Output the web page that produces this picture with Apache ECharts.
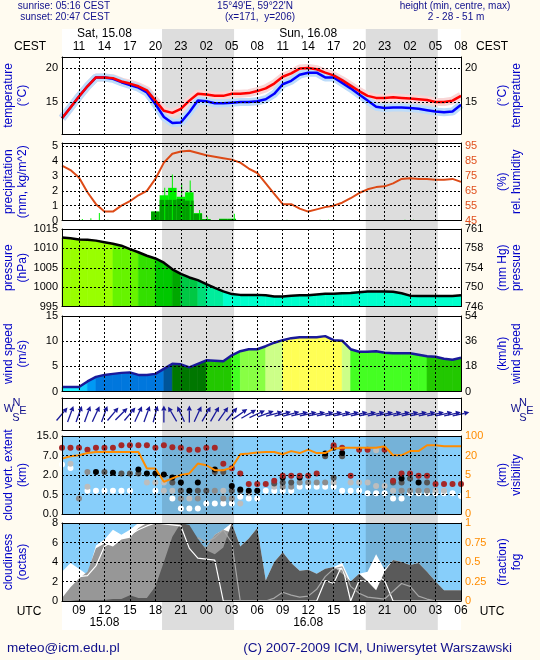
<!DOCTYPE html>
<html>
<head>
<meta charset="utf-8">
<title>meteogram</title>
<script src="https://cdn.jsdelivr.net/npm/echarts@6/dist/echarts.min.js"></script>
<style>
  html, body { margin: 0; padding: 0; background: #fffbf0; }
  #chart { width: 540px; height: 660px; }
</style>
</head>
<body>
<div id="chart"></div>
<script>
// forecast hours, UTC, counted from 15.08 00:00 UTC
var hours = [7,8,9,10,11,12,13,14,15,16,17,18,19,20,21,22,23,24,25,26,27,28,29,30,
             31,32,33,34,35,36,37,38,39,40,41,42,43,44,45,46,47,48,49,50,51,52,53,54];
var utcTicks = [9,12,15,18,21,24,27,30,33,36,39,42,45,48,51,54];
var dateTicks = [12, 36];
var dateTop = ['Sat, 15.08', 'Sun, 16.08'];
var dateBottom = ['15.08', '16.08'];
var nightStart = [18.78, 42.78];   // sunset 20:47 CEST
var nightEnd = [27.27, 51.27];     // sunrise 05:16 CEST

var temp = [12.6,14.2,15.8,17.3,18.6,18.6,18.5,18.0,17.7,17.3,16.7,15.2,13.7,13.4,14.0,15.2,
            16.2,16.1,15.9,15.9,16.2,16.2,16.3,16.6,17.0,17.7,18.7,19.2,19.9,20.0,19.8,19.3,
            18.9,18.2,17.4,16.6,15.9,15.6,15.6,15.7,15.6,15.5,15.4,15.3,15.0,15.0,15.2,15.9];
var tempLow = [12.6,14.2,15.8,17.3,18.6,18.6,18.4,17.9,17.5,17.1,16.4,14.7,12.8,11.9,12.0,13.5,
               15.2,15.1,14.8,14.8,14.9,15.0,15.0,15.1,15.4,16.2,17.6,18.1,19.0,19.3,19.3,18.6,
               18.6,17.8,17.0,16.1,15.2,14.3,14.1,14.2,14.2,14.1,14.0,13.8,13.6,13.5,13.6,14.6];
var humidity = [82,79,74,64,56,51,51,55,58,62,65,73,84,90,91.5,92,90.5,89,88,87,86,84,80,77,
                70,63,56,56,53,51,52.5,54,55,57,60,63.5,66,67.5,68,70,73,73.5,73,73,72.5,72.5,73,71];

var precipHours = [18,19,20,21,22,23,24,25,26,27];
var precipTotal = [0.6,1.7,2.2,1.6,1.9,0.5,0.1,0.03,0.12,0.12];
var precipConv = [0.6,1.39,1.39,1.45,1.34,0.45,0.09,0.02,0.1,0.1];
var precipMaxHours = [9.4,10.4,11.4,12.4,19.1,20.0,21.1,22.1,23.2,24.1,27.3,33.5,36.4,37.4,38.4,47.4,48.4,49.4];
var precipMax = [0.1,0.15,0.5,0.05,2.2,3.1,2.5,2.7,0.7,0.27,0.45,0.05,0.04,0.05,0.05,0.05,0.05,0.04];

var pressure = [1012.8,1012.6,1012.3,1012.2,1012.0,1011.6,1011.2,1010.7,1009.8,1009.0,1008.1,1007.4,
                1006.3,1004.6,1003.4,1002.5,1001.8,1000.8,999.8,998.9,998.2,998.0,998.0,998.0,
                997.9,997.6,997.6,997.8,997.9,997.9,998.1,998.3,998.3,998.4,998.5,998.7,
                998.9,998.9,998.9,998.8,998.4,997.8,997.7,997.7,997.7,997.7,997.7,997.9];
var windSpeed = [0.9,0.9,0.9,2.0,2.9,3.3,3.5,3.7,3.8,3.3,3.3,3.5,4.5,5.5,5.4,4.8,5.5,6.2,6.1,6.0,
                 7.2,8.0,8.4,8.4,9.0,9.7,10.2,10.6,10.8,10.8,10.8,11.0,10.2,10.1,8.4,7.9,7.9,8.0,
                 7.7,7.6,7.6,7.6,7.3,7.0,6.9,6.5,6.3,6.7];
var windFrom = [220,200,200,200,205,200,220,225,220,205,200,195,180,150,155,180,205,210,210,215,
                220,235,240,245,250,255,255,255,258,258,258,258,258,258,258,258,258,258,258,258,
                258,258,258,258,258,258,258,258];

// cloud layers [hour, km], by dot colour
var cloudRed = [[7,10.2],[8,10.2],[9,10.2],[10,9.4],[11,10.2],[12,10.2],[13,10.2],[14,11.2],[15,11.2],
  [16,11.2],[17,11.2],[18,10.2],[19,11.2],[20,10.4],[21,10.2],[22,9.4],[23,9.4],[24,10.2],[25,10.2],
  [26,4.9],[27,3.7],[28,2.4],[29,1.3],[30,1.3],[31,1.3],[32,1.55],[33,1.94],[34,1.94],[35,1.94],
  [36,1.94],[37,2.4],[39,11.2],[40,10.2],[41,1.94],[42,9.4],[43,9.4],[45,9.4],[46,1.55],[47,2.4],
  [48,2.4],[49,1.94],[50,1.94],[51,1.3],[52,1.3],[53,1.3],[54,1.3]];
var cloudBlack = [[11,2.8],[13,2.6],[16,3.4],[17,2.4],[18,2.4],[19,2.1],[20,1.81],[21,1.43],[22,0.79],
  [23,1.43],[25,3.4],[27,1.15],[28,0.89],[29,0.79],[30,0.79],[33,1.81],[35,1.81],[38,7.8],[39,10.2],
  [40,8.0],[47,1.73],[49,1.43]];
var cloudDark = [[12,2.8],[14,2.4],[15,2.4],[16,2.4],[20,1.43],[21,0.79],[23,0.79],[24,0.79],[25,2.8],
  [26,2.8],[27,0.79],[28,0.79],[32,1.35],[33,1.43],[34,1.43],[38,6.8],[39,1.79],[40,6.8],[46,1.43],
  [47,1.43],[48,1.73],[50,1.43]];
var cloudGray = [[9,0.4],[10,2.8],[21,0.4],[23,0.4],[25,0.79],[26,0.4],[27,0.4],[33,1.1],[34,1.1],
  [35,1.43],[36,1.43],[37,1.43],[38,1.43],[47,0.79],[48,0.79],[49,0.79],[50,0.79]];
var cloudLight = [[8,4.9],[10,1.1],[17,1.43],[18,1.43],[19,1.43],[19,0.79],[20,0.79],[22,0.4],[26,0.79],
  [28,0.27],[29,0.59],[32,1.1],[39,1.43],[41,1.43],[42,1.43],[43,1.43],[44,9.2],[44,1.15],[45,1.15],
  [46,0.79],[51,0.79],[52,0.79]];
var cloudWhite = [[7,4.7],[8,3.8],[10,0.79],[11,0.79],[12,0.79],[13,0.79],[14,0.79],[15,0.79],[18,0.79],
  [20,0.4],[21,0.14],[22,0.14],[23,0.14],[24,0.27],[25,0.27],[26,0.27],[27,0.27],[28,0.44],[29,0.4],
  [30,0.4],[31,0.79],[32,0.79],[33,0.79],[34,0.79],[35,1.1],[36,1.1],[37,1.1],[38,1.1],[39,1.1],
  [40,0.79],[41,0.79],[42,0.79],[43,0.59],[44,0.59],[45,0.59],[46,0.4],[47,0.4],[48,0.59],[49,0.59],
  [50,0.59],[51,0.59],[52,0.59],[53,0.59],[54,0.46]];
var visibility = [17.6,19.4,20.8,30,34.6,34.6,34.6,34.6,34.6,34.6,10,10,3.6,4.3,5.0,6.2,13.8,12.5,
                  8.7,8.7,10.7,25,28,32,34.6,34.6,25,38,30,44,30,30,48,52,52,52,52,52,58,20.8,20.8,
                  38,38,62,62,58,58,58];
var extBreaks = [0, 0.5, 2, 7, 15];
var visBreaks = [0, 1, 5, 20, 100];

// cloudiness, octas
var cloudTotal = [3.0,3.9,3.3,2.7,5.7,6.3,7.3,6.8,7.3,8,8,8,8,8,8,7.5,6.3,5.2,6.8,7.3,8.0,5.6,6.4,7.5,
                  2.1,4.0,5.0,3.9,3.1,3.2,2.8,3.3,3.5,3.9,2.0,2.8,3.0,4.8,3.2,4.2,4.0,3.7,3.9,3.0,
                  2.0,1.1,1.1,1.1];
var cloudMid = [0.3,1.4,2.3,3.0,5.4,5.9,5.6,6.3,6.5,7.5,8,8,8,8,8,7.5,6.0,5.5,6.8,7.3,7.0,4.0,2.0,0.5,
                0,0,0,0,0,0,1.5,2.6,3.3,3.2,1.0,0,0,0,0,0,0,0,0,0,0,0,0,0];
var cloudLow = [0,0,0.1,0.1,0.1,0.1,0.2,0.2,0.6,0.3,0.3,1.5,4.0,6.6,8.0,7.8,6.4,5.2,4.8,5.5,8.0,5.6,
                6.4,7.5,2.1,4.0,5.0,3.9,3.1,3.2,2.8,3.3,3.5,2.8,2.0,2.8,2.0,1.1,3.0,4.2,4.0,3.7,
                3.9,3.0,2.0,1.1,1.1,1.1];
var cloudLineA = [0.9,2.0,2.5,2.6,3.6,5.6,6.2,6.6,6.8,7.3,7.7,8.0,7.9,7.8,7.7,5.4,4.4,4.3,4.2,0,
                  0,0,0,0,0,0,0,0,0,0,0,2.1,1.8,3.7,0,2.1,2.0,2.6,2.1,0,0,0,0,0,0,0,0,0];
var cloudLineB = [null,null,null,null,null,null,null,null,null,null,null,null,null,null,null,null,
                  6.5,6.0,6.5,7.3,6.0,0,0,0,0,0.3,0.9,0.6,0.4,0.5,1.2,2.5,3.3,3.5,1.5,0.8,0.4,0.3,
                  0.2,1.0,1.8,1.5,0.5,0.2,0,0,0,0];
var fogHours = [22];
var fog = [0.14];

var chart = echarts.init(document.getElementById('chart'));

var FONT = '"Liberation Sans", Arial, sans-serif';
var NAVY = '#10108c';
var TITLE = '#0000c8';
var DASH = { type: [2, 2], color: '#000', width: 1 };
var L = 62, R = 79;
var panels = [
  { top: 57, height: 77 },     // temperature
  { top: 143, height: 77.5 },  // precipitation, humidity
  { top: 229, height: 77.5 },  // pressure
  { top: 316, height: 75.5 },  // wind speed
  { top: 398, height: 32 },    // wind direction
  { top: 436, height: 78 },    // cloud vertical extent, visibility
  { top: 523, height: 78 }     // cloudiness, fog
];

function pad(n) { return (n < 10 ? '0' : '') + n; }
function zip(xs, ys) { return xs.map(function (x, i) { return [x, ys[i]]; }); }
function segments(xs, ys) {
  var out = [];
  for (var i = 0; i < xs.length - 1; i++) out.push([xs[i], ys[i], xs[i + 1], ys[i + 1]]);
  return out;
}
function toLevel(v, br) {
  for (var i = 1; i < br.length; i++) {
    if (v <= br[i]) return i - 1 + (v - br[i - 1]) / (br[i] - br[i - 1]);
  }
  return br.length - 1;
}
function pressureColor(p) {
  var steps = [1011.4, 1009.3, 1007.6, 1005.2, 1003.8, 1002.0, 1001.2, 999.3];
  var cols = ['#99ff00', '#66f400', '#33e000', '#00c800', '#00a800', '#00c844', '#00dc77', '#00ec9c'];
  for (var i = 0; i < steps.length; i++) if (p >= steps[i]) return cols[i];
  return '#00ffcc';
}
function windColor(v) {
  var steps = [1.2, 2, 2.8, 4.5, 5.05, 6, 7.0, 8.18, 9, 10.12];
  var cols = ['#22f4ff', '#11ccff', '#0099f4', '#0077dd', '#005599', '#007700', '#22c800', '#44ff22', '#88ff44', '#ccff88'];
  for (var i = 0; i < steps.length; i++) if (v < steps[i]) return cols[i];
  return '#ffff55';
}

function fillUnder(colorOf, base) {
  return function (params, api) {
    var x0 = api.value(0), v0 = api.value(1), x1 = api.value(2), v1 = api.value(3);
    var c = colorOf((v0 + v1) / 2);
    var pts = [api.coord([x0, v0]), api.coord([x1, v1]), api.coord([x1, base]), api.coord([x0, base])];
    return { type: 'polygon', shape: { points: pts }, style: { fill: c, stroke: c, lineWidth: 0.6 } };
  };
}
function hourBar(color) {
  return function (params, api) {
    var a = api.coord([api.value(0) - 0.5, api.value(1)]);
    var b = api.coord([api.value(0) + 0.5, 0]);
    return { type: 'rect', shape: { x: a[0], y: a[1], width: b[0] - a[0], height: b[1] - a[1] }, style: { fill: color } };
  };
}
function thinBar(color, w) {
  return function (params, api) {
    var a = api.coord([api.value(0), api.value(1)]);
    var b = api.coord([api.value(0), 0]);
    return { type: 'rect', shape: { x: a[0] - w / 2, y: a[1], width: w, height: b[1] - a[1] }, style: { fill: color } };
  };
}
function arrow(params, api) {
  var c = api.coord([api.value(0), 0.5]);
  var a = (api.value(1) + 180) * Math.PI / 180;
  var dx = Math.sin(a), dy = -Math.cos(a), len = 17;
  var x0 = c[0] - dx * len / 2, y0 = c[1] - dy * len / 2;
  var x1 = c[0] + dx * len / 2, y1 = c[1] + dy * len / 2;
  var bx = x1 - dx * 5, by = y1 - dy * 5;
  return { type: 'group', children: [
    { type: 'line', shape: { x1: x0, y1: y0, x2: bx, y2: by }, style: { stroke: '#1a1a9a', lineWidth: 1.3 } },
    { type: 'polygon', shape: { points: [[x1, y1], [bx - dy * 2.6, by + dx * 2.6], [bx + dy * 2.6, by - dx * 2.6]] },
      style: { fill: '#1a1a9a' } }
  ] };
}

// axes
function timeAxis(grid, pos, fmt) {
  return {
    type: 'value', gridIndex: grid, min: 7, max: 54, position: pos, z: 10,
    axisLine: { show: true, onZero: false, lineStyle: { color: '#000', width: 1 } },
    axisTick: { show: false, customValues: utcTicks },
    axisLabel: { show: !!fmt, customValues: utcTicks, formatter: fmt, color: '#000',
                 fontSize: 12, fontFamily: FONT, margin: 4 },
    splitLine: { show: pos === 'bottom', lineStyle: DASH }
  };
}
function dateAxis(grid, pos, labels, offset) {
  return {
    type: 'value', gridIndex: grid, min: 7, max: 54, position: pos, offset: offset,
    axisLine: { show: false }, axisTick: { show: false, customValues: dateTicks }, splitLine: { show: false },
    axisLabel: { customValues: dateTicks, color: '#000', fontSize: 12, fontFamily: FONT, margin: 4,
                 formatter: function (v) { return labels[dateTicks.indexOf(v)]; } }
  };
}
function valueAxis(grid, pos, min, max, o) {
  var ax = {
    type: 'value', gridIndex: grid, position: pos, min: min, max: max, z: 10,
    axisLine: { show: true, onZero: false, lineStyle: { color: '#000', width: 1 } },
    axisTick: { show: false },
    axisLabel: { show: !o.hide, color: o.color || '#000', fontSize: 11, fontFamily: FONT, margin: 4,
                 formatter: o.fmt || function (v) { return String(v); } },
    splitLine: { show: pos === 'left' && !o.hide, lineStyle: DASH },
    name: o.name || '', nameLocation: 'middle', nameRotate: 90, nameMoveOverlap: false,
    nameGap: pos === 'left' ? 32 : 35,
    nameTextStyle: { color: TITLE, fontSize: 12, fontFamily: FONT, lineHeight: 14 }
  };
  if (o.interval) ax.interval = o.interval;
  if (o.ticks) { ax.axisTick.customValues = o.ticks; ax.axisLabel.customValues = o.ticks; }
  return ax;
}

var xAxes = [{ type: 'value', gridIndex: 0, min: 7, max: 54, show: false }];
for (var p = 1; p <= 7; p++) {
  xAxes.push(timeAxis(p, 'bottom', p === 7 ? function (v) { return pad(v % 24); } : null));
  xAxes.push(timeAxis(p, 'top', p === 1 ? function (v) { return pad((v + 2) % 24); } : null));
}
xAxes.push(dateAxis(1, 'top', dateTop, 13));
xAxes.push(dateAxis(7, 'bottom', dateBottom, 12));

var extLabels = extBreaks.map(function (v) { return v.toFixed(1); });
var visLabels = visBreaks.map(function (v) { return String(v); });
var yAxes = [
  { type: 'value', gridIndex: 0, min: 0, max: 1, show: false },
  valueAxis(1, 'left', 10.3, 21.6, { ticks: [15, 20], name: 'temperature\n(°C)' }),
  valueAxis(1, 'right', 10.3, 21.6, { ticks: [15, 20], name: '(°C)\ntemperature' }),
  valueAxis(2, 'left', 0, 5.22, { ticks: [0, 1, 2, 3, 4, 5], name: 'precipitation\n(mm, kg/m^2)' }),
  valueAxis(2, 'right', 45, 97.2, { ticks: [45, 55, 65, 75, 85, 95], color: '#e0501e', name: '(%)\nrel. humidity' }),
  valueAxis(3, 'left', 995, 1015, { interval: 5, name: 'pressure\n(hPa)' }),
  valueAxis(3, 'right', 995, 1015, { interval: 5, name: '(mm Hg)\npressure',
    fmt: function (v) { return String(Math.round(v * 0.750062)); } }),
  valueAxis(4, 'left', 0, 15, { interval: 5, name: 'wind speed\n(m/s)' }),
  valueAxis(4, 'right', 0, 15, { interval: 5, name: '(km/h)\nwind speed',
    fmt: function (v) { return String(Math.round(v * 3.6)); } }),
  valueAxis(5, 'left', 0, 1, { hide: true }),
  valueAxis(5, 'right', 0, 1, { hide: true }),
  valueAxis(6, 'left', 0, 4, { interval: 1, name: 'cloud vert. extent\n(km)',
    fmt: function (v) { return extLabels[v]; } }),
  valueAxis(6, 'right', 0, 4, { interval: 1, color: '#ff8c00', name: '(km)\nvisibility',
    fmt: function (v) { return visLabels[v]; } }),
  valueAxis(7, 'left', 0, 8, { interval: 2, name: 'cloudiness\n(octas)' }),
  valueAxis(7, 'right', 0, 1, { interval: 0.25, color: '#ff8c00', name: '(fraction)\nfog' })
];

var grids = [{ left: L, right: R, top: 29, height: 601, show: true, backgroundColor: '#ffffff',
               borderWidth: 0, outerBoundsMode: 'none' }];
panels.forEach(function (g, i) {
  grids.push({ left: L, right: R, top: g.top, height: g.height, show: true, borderWidth: 0,
               backgroundColor: i >= 5 ? '#87cefa' : 'transparent', outerBoundsMode: 'none' });
});

function line(p, axisRight, data, color, width, extra) {
  return Object.assign({
    type: 'line', xAxisIndex: 2 * p - 1, yAxisIndex: axisRight ? 2 * p : 2 * p - 1,
    data: data, symbol: 'none', silent: true, lineStyle: { color: color, width: width }
  }, extra || {});
}
function area(data, color) {
  return line(7, false, zip(hours, data), color, 0, { areaStyle: { color: color, opacity: 1 } });
}
function dots(data, color) {
  return {
    type: 'scatter', xAxisIndex: 11, yAxisIndex: 11, symbolSize: 6, silent: true,
    itemStyle: { color: color, opacity: 1 },
    data: data.map(function (d) { return [d[0], toLevel(d[1], extBreaks)]; })
  };
}

var series = [
  { type: 'line', xAxisIndex: 0, yAxisIndex: 0, data: [[7, 0]], symbol: 'none', silent: true,
    lineStyle: { width: 0 },
    markArea: { silent: true, itemStyle: { color: 'rgba(0,0,0,0.135)' },
      data: nightStart.map(function (s, i) { return [{ xAxis: s, yAxis: 0 }, { xAxis: nightEnd[i], yAxis: 1 }]; }) } },

  line(1, false, zip(hours, temp), '#f9d6d6', 8),
  line(1, false, zip(hours, tempLow), '#bcdcfa', 8),
  line(1, false, zip(hours, tempLow), '#0000ff', 2.5),
  line(1, false, zip(hours, temp), '#ff0000', 2.5),

  { type: 'custom', xAxisIndex: 3, yAxisIndex: 3, silent: true, renderItem: hourBar('#00f000'),
    data: zip(precipHours, precipTotal) },
  { type: 'custom', xAxisIndex: 3, yAxisIndex: 3, silent: true, renderItem: hourBar('#00a000'),
    data: zip(precipHours, precipConv) },
  { type: 'custom', xAxisIndex: 3, yAxisIndex: 3, silent: true, renderItem: thinBar('#00f000', 1),
    data: zip(precipMaxHours, precipMax) },
  line(2, true, zip(hours, humidity), '#dd4a16', 2),

  { type: 'custom', xAxisIndex: 5, yAxisIndex: 5, silent: true, renderItem: fillUnder(pressureColor, 995),
    data: segments(hours, pressure) },
  line(3, false, zip(hours, pressure), '#000000', 2.5),

  { type: 'custom', xAxisIndex: 7, yAxisIndex: 7, silent: true, renderItem: fillUnder(windColor, 0),
    data: segments(hours, windSpeed) },
  line(4, false, zip(hours, windSpeed), '#1a1a9a', 2.5),

  { type: 'custom', xAxisIndex: 9, yAxisIndex: 9, silent: true, renderItem: arrow,
    data: zip(hours, windFrom) },

  dots(cloudWhite, '#ffffff'),
  dots(cloudLight, '#bdbdbd'),
  dots(cloudGray, '#8c8c8c'),
  dots(cloudDark, '#555555'),
  dots(cloudBlack, '#000000'),
  dots(cloudRed, '#a52828'),
  line(6, true, hours.map(function (h, i) { return [h, toLevel(visibility[i], visBreaks)]; }), '#ff8c00', 2),

  area(cloudTotal, '#ffffff'),
  area(cloudMid, '#979797'),
  area(cloudLow, '#5a5a5a'),
  line(7, false, zip(hours, cloudLineA), '#ffffff', 1.2),
  line(7, false, zip(hours, cloudLineB), '#a8a8a8', 1.2),
  { type: 'custom', xAxisIndex: 13, yAxisIndex: 14, silent: true, renderItem: thinBar('#ffb000', 3),
    data: zip(fogHours, fog) }
];

function txt(x, y, text, size, color, align) {
  return { type: 'text', x: x, y: y, silent: true, z: 20,
    style: { text: text, fill: color || '#000', font: size + 'px ' + FONT,
             align: align || 'center', verticalAlign: 'middle' } };
}
var graphics = [
  txt(64, 6, 'sunrise: 05:16 CEST', 10, NAVY),
  txt(65, 17.5, 'sunset: 20:47 CEST', 10, NAVY),
  txt(255, 6, "15°49'E, 59°22'N", 10, NAVY),
  txt(260, 17.5, '(x=171,  y=206)', 10, NAVY),
  txt(455, 6, 'height (min, centre, max)', 10, NAVY),
  txt(456, 17.5, '2 - 28 - 51 m', 10, NAVY),
  txt(30, 47, 'CEST', 12), txt(492, 47, 'CEST', 12),
  txt(29, 611.5, 'UTC', 12), txt(492, 611.5, 'UTC', 12),
  txt(16.5, 403, 'N', 11, NAVY), txt(9, 409, 'W', 11, NAVY), txt(23, 411, 'E', 11, NAVY), txt(16, 418, 'S', 11, NAVY),
  txt(523, 403, 'N', 11, NAVY), txt(516, 409, 'W', 11, NAVY), txt(530, 411, 'E', 11, NAVY), txt(523, 418, 'S', 11, NAVY),
  txt(7, 648, 'meteo@icm.edu.pl', 13.5, NAVY, 'left'),
  txt(512, 648, '(C) 2007-2009 ICM, Uniwersytet Warszawski', 13.5, NAVY, 'right')
];

chart.setOption({
  animation: false,
  backgroundColor: '#fffbf0',
  grid: grids,
  xAxis: xAxes,
  yAxis: yAxes,
  series: series,
  graphic: graphics
});
</script>
</body>
</html>
